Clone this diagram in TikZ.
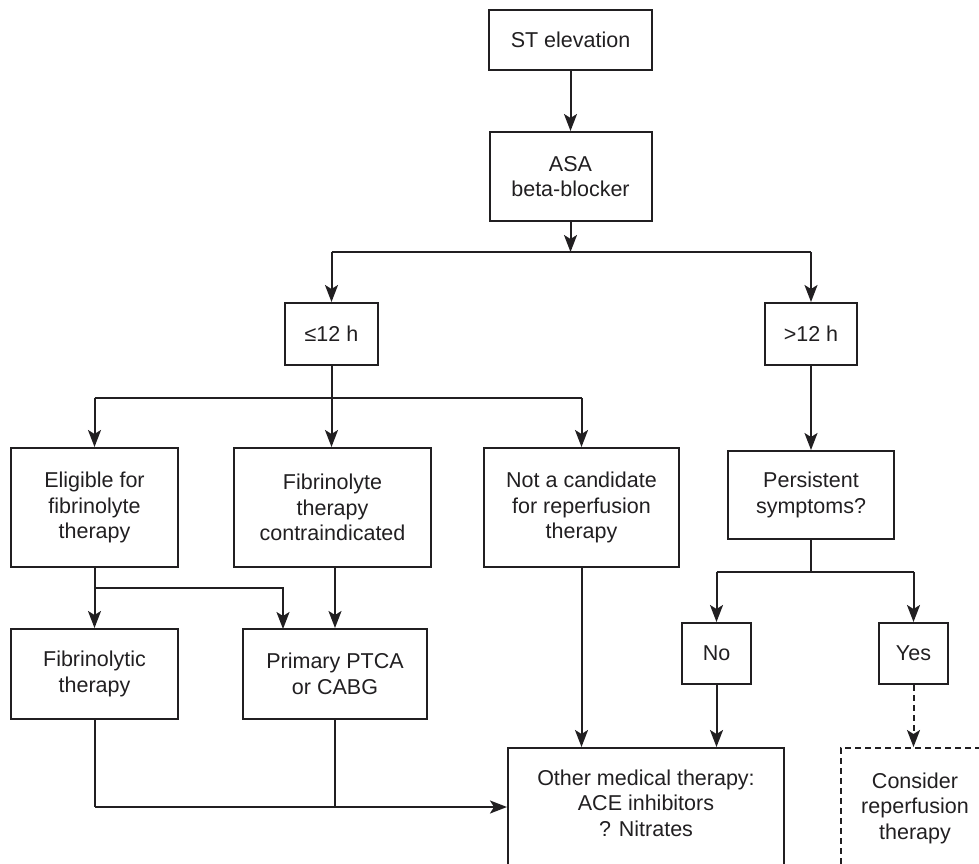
\documentclass[tikz,border=0pt]{standalone}
\usepackage{fontspec}
\setmainfont{Liberation Sans}
\usetikzlibrary{arrows.meta}
\definecolor{ink}{rgb}{0.13,0.12,0.13}
\begin{document}
\begin{tikzpicture}[x=1pt,y=-1pt,
  txt/.style={align=center, inner sep=0pt, text=ink, font=\fontsize{21.5}{25.5}\selectfont},
  box/.style={txt, draw=ink, line width=2pt, rectangle},
  conn/.style={draw=ink, line width=2pt},
  arr/.style={conn, -{Stealth[length=17pt,width=13pt,inset=4pt]}},
  dashedarr/.style={arr, dashed, dash pattern=on 6pt off 4pt},
]
\useasboundingbox (0,0) rectangle (979,863);
\clip (0,0) rectangle (979,863);

\node[box, minimum width=163pt, minimum height=60pt] (st) at (570.5,39.5) {ST elevation};
\node[box, minimum width=162pt, minimum height=89pt] (asa) at (570.5,176.5) {ASA\\beta-blocker};
\node[box, minimum width=93pt, minimum height=62pt] (le12) at (331.5,334) {≤12 h};
\node[box, minimum width=92pt, minimum height=62pt] (gt12) at (811,334) {>12 h};
\node[box, minimum width=167pt, minimum height=119pt] (elig) at (94.5,507.5) {Eligible for\\fibrinolyte\\therapy};
\node[box, minimum width=197pt, minimum height=119pt] (contra) at (332.5,507.5) {Fibrinolyte\\therapy\\contraindicated};
\node[box, minimum width=195pt, minimum height=119pt] (notc) at (581.5,507.5) {Not a candidate\\for reperfusion\\therapy};
\node[box, minimum width=166pt, minimum height=88pt] (pers) at (811,495) {Persistent\\symptoms?};
\node[box, minimum width=167pt, minimum height=90pt] (fibther) at (94.5,674) {Fibrinolytic\\therapy};
\node[box, minimum width=184pt, minimum height=90pt] (ptca) at (335,674) {Primary PTCA\\or CABG};
\node[box, minimum width=69pt, minimum height=61pt] (no) at (716.5,653.5) {No};
\node[box, minimum width=69pt, minimum height=61pt] (yes) at (913.5,653.5) {Yes};
\node[box, minimum width=276pt, minimum height=124pt] (other) at (646,810) {};
\node[txt] (otherT) at (646,803) {Other medical therapy:\\ACE inhibitors\\? Nitrates};
\node[box, dashed, dash pattern=on 6pt off 4pt, minimum width=148pt, minimum height=124pt] (cons) at (915,810) {};
\node[txt] (consT) at (915,808) {Consider\\reperfusion\\therapy};

% junction coordinates
\coordinate (j1) at (570.5,252);
\coordinate (j2) at (331.5,398);
\coordinate (j3) at (94.5,588);
\coordinate (j4) at (811,572);
\coordinate (j5) at (94.5,807);
\coordinate (j6) at (335,807);
\coordinate (ptcaL) at (283,629);

\draw[arr] (st) -- (asa);
\draw[arr] (asa) -- (j1);
\draw[conn] (le12.north |- j1) -- (gt12.north |- j1);
\draw[arr] (le12.north |- j1) -- (le12.north);
\draw[arr] (gt12.north |- j1) -- (gt12.north);

\draw[conn] (le12) -- (j2);
\draw[conn] (elig.north |- j2) -- (notc.north |- j2);
\draw[arr] (elig.north |- j2) -- (elig.north);
\draw[arr] (j2) -- (j2 |- contra.north);
\draw[arr] (notc.north |- j2) -- (notc.north);

\draw[arr] (gt12) -- (pers);

\draw[conn] (elig) -- (j3);
\draw[arr] (j3) -- (fibther);
\draw[arr] (j3) -| (ptcaL);
\draw[arr] (contra.south -| ptca.north) -- (ptca.north);

\draw[conn] (pers) -- (j4);
\draw[conn] (no.north |- j4) -- (yes.north |- j4);
\draw[arr] (no.north |- j4) -- (no.north);
\draw[arr] (yes.north |- j4) -- (yes.north);

\draw[arr] (no.south) -- (no.south |- other.north);
\draw[arr] (notc.south) -- (notc.south |- other.north);
\draw[dashedarr] (yes.south) -- (yes.south |- cons.north);

\draw[conn] (fibther) -- (j5);
\draw[conn] (ptca) -- (j6);
\draw[arr] (j5) -- (j5 -| other.west);
\end{tikzpicture}
\end{document}
